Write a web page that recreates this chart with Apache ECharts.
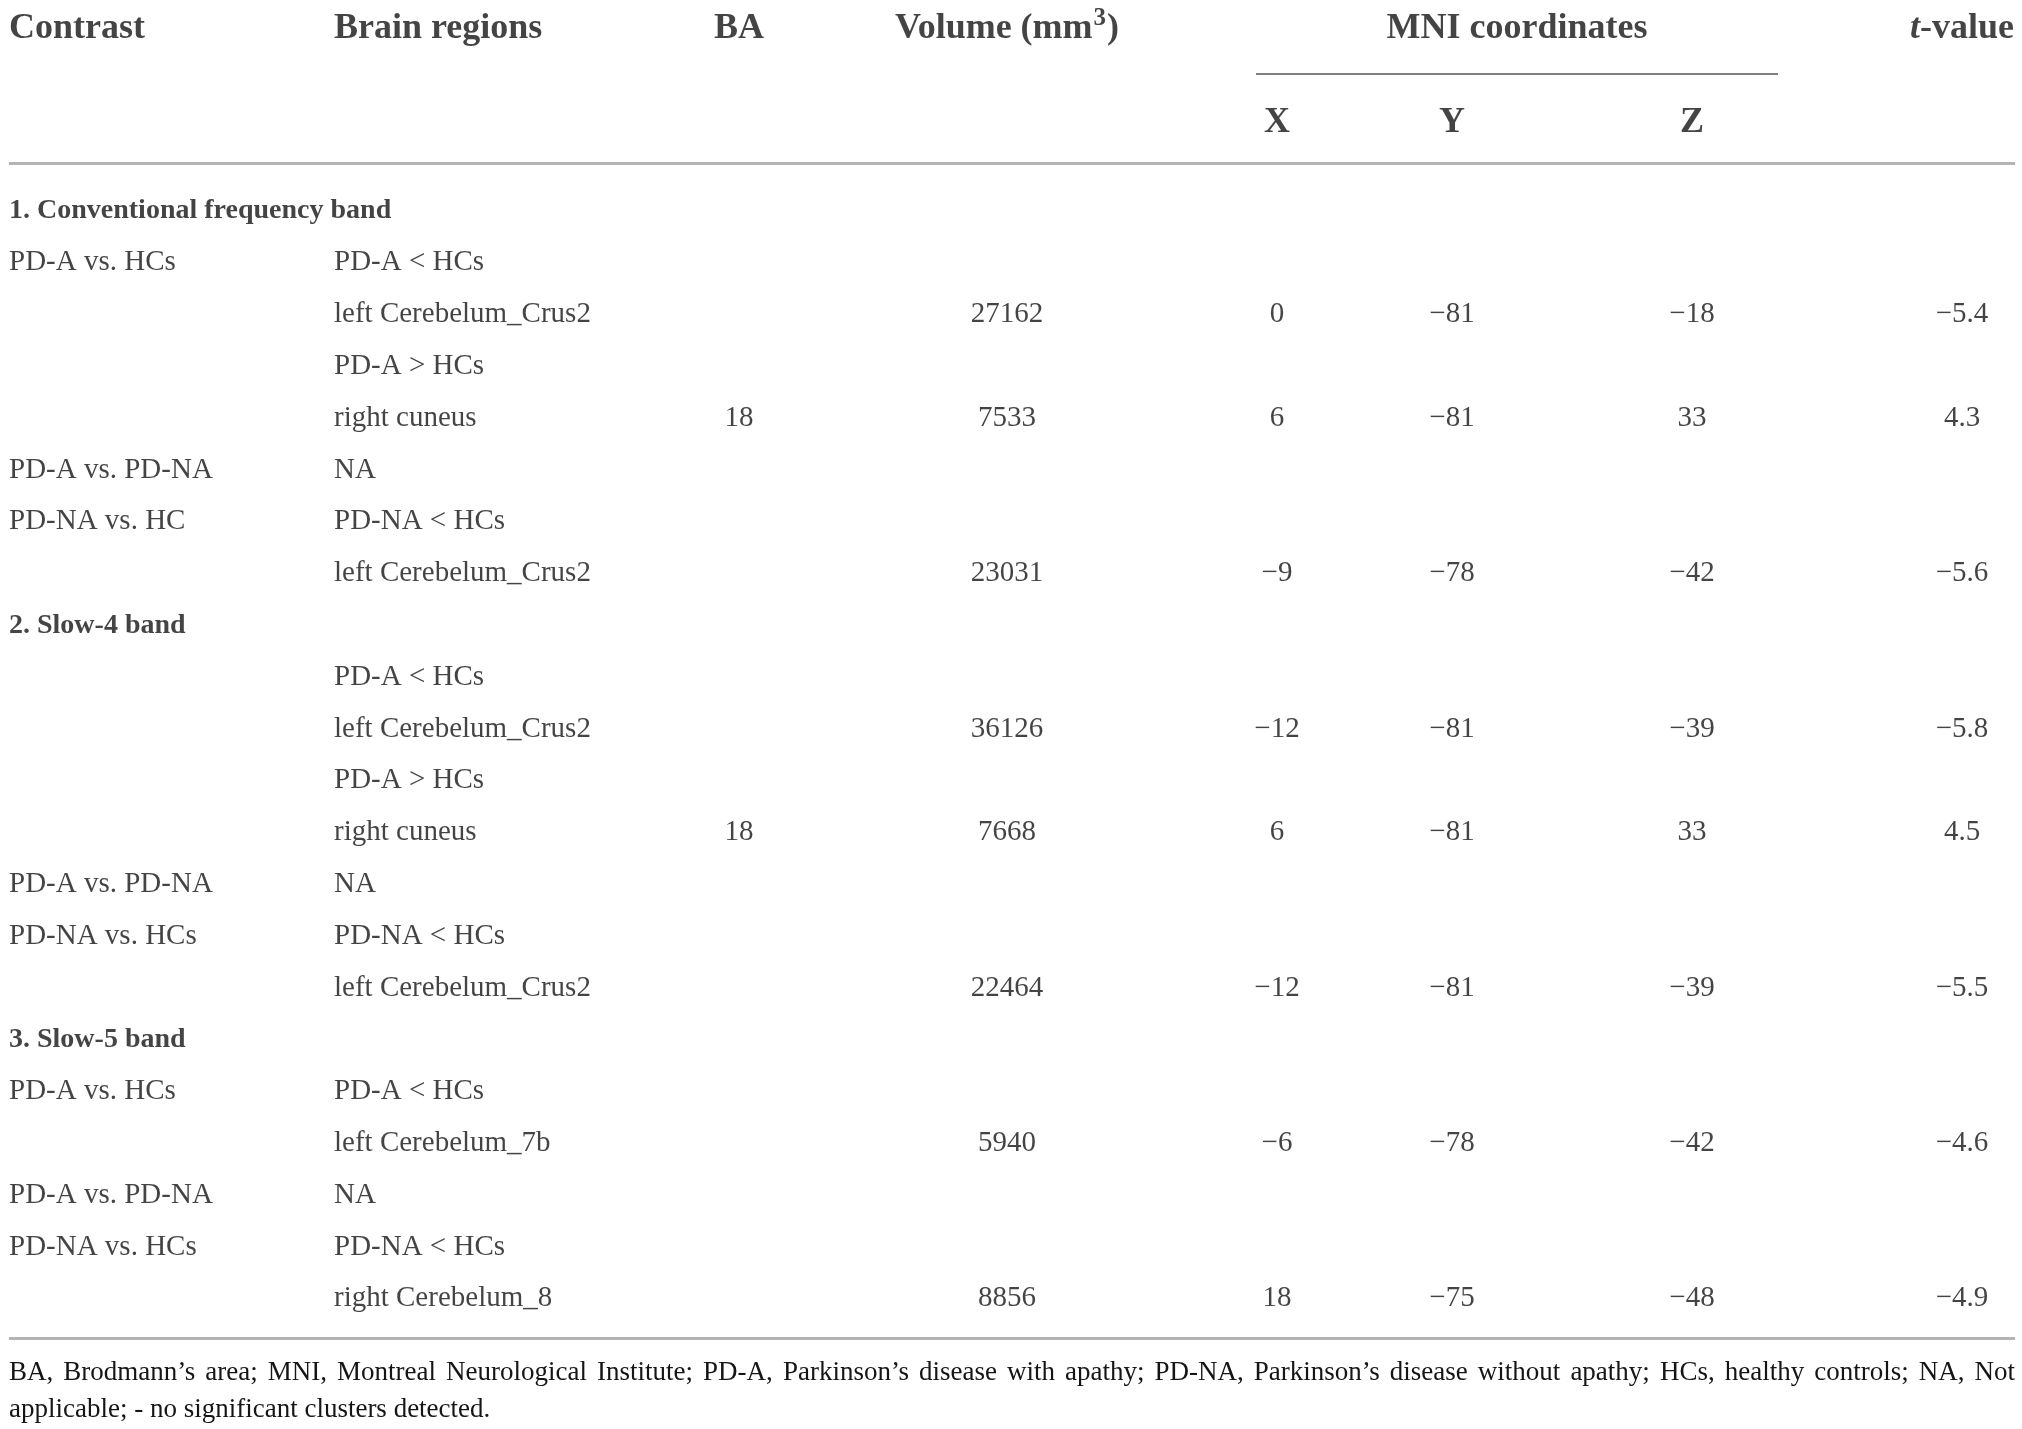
<!DOCTYPE html>
<html>
<head>
<meta charset="utf-8">
<script src="https://cdn.jsdelivr.net/npm/echarts@6/dist/echarts.min.js"></script>
<style>
  html, body { margin: 0; padding: 0; background: #fff; }
  #cluster_table { width: 2022px; height: 1429px; }
</style>
</head>
<body>
<div id="cluster_table"></div>
<script>
// table content, one entry per body row
var contrast = ['1. Conventional frequency band', 'PD-A vs. HCs', '', '', '', 'PD-A vs. PD-NA', 'PD-NA vs. HC', '',
  '2. Slow-4 band', '', '', '', '', 'PD-A vs. PD-NA', 'PD-NA vs. HCs', '',
  '3. Slow-5 band', 'PD-A vs. HCs', '', 'PD-A vs. PD-NA', 'PD-NA vs. HCs', ''];
var regions = ['', 'PD-A < HCs', 'left Cerebelum_Crus2', 'PD-A > HCs', 'right cuneus', 'NA', 'PD-NA < HCs', 'left Cerebelum_Crus2',
  '', 'PD-A < HCs', 'left Cerebelum_Crus2', 'PD-A > HCs', 'right cuneus', 'NA', 'PD-NA < HCs', 'left Cerebelum_Crus2',
  '', 'PD-A < HCs', 'left Cerebelum_7b', 'NA', 'PD-NA < HCs', 'right Cerebelum_8'];
var sectionRows = [0, 8, 16];

// cluster rows and their values
var clusterRows = [2, 4, 7, 10, 12, 15, 18, 21];
var ba = ['', '18', '', '', '18', '', '', ''];
var volume = ['27162', '7533', '23031', '36126', '7668', '22464', '5940', '8856'];
var mniX = ['0', '6', '\u22129', '\u221212', '6', '\u221212', '\u22126', '18'];
var mniY = ['\u221281', '\u221281', '\u221278', '\u221281', '\u221281', '\u221281', '\u221278', '\u221275'];
var mniZ = ['\u221218', '33', '\u221242', '\u221239', '33', '\u221239', '\u221242', '\u221248'];
var tValue = ['\u22125.4', '4.3', '\u22125.6', '\u22125.8', '4.5', '\u22125.5', '\u22124.6', '\u22124.9'];

var headers = ['Contrast', 'Brain regions', 'BA', 'Volume (mm{sup|3})', 'MNI coordinates', '{it|t}-value'];
var subHeaders = ['X', 'Y', 'Z'];
var footnote = ['BA, Brodmann\u2019s area; MNI, Montreal Neurological Institute; PD-A, Parkinson\u2019s disease with apathy; PD-NA, Parkinson\u2019s disease without apathy; HCs, healthy controls; NA, Not',
  'applicable; - no significant clusters detected.'];

// layout (pixels of the 2022 x 1429 page)
var W = 2022, H = 1429;
var font = 'Liberation Serif';
var ink = '#151515';
var col = { contrast: 9, region: 334, ba: 739, volume: 1007, x: 1277, y: 1452, z: 1692, t: 1962, mni: 1517 };
var headerY = 29, subHeaderY = 123;
var firstRowY = 211, rowGap = 51.8;
var tableLeft = 9, tableRight = 2015;

function rowY(i) { return firstRowY + i * rowGap; }

function cellSeries(name, data, align, size, weight) {
  return {
    name: name,
    type: 'scatter',
    silent: true,
    symbolSize: 0,
    data: data,
    label: {
      show: true,
      position: [0, 0],
      align: align,
      verticalAlign: 'middle',
      fontFamily: font,
      fontSize: size,
      fontWeight: weight,
      color: ink,
      formatter: function (p) { return p.value[2]; },
      rich: {
        sup: { fontFamily: font, fontSize: 25, fontWeight: 'bold', color: ink, verticalAlign: 'top', padding: [0, 1, 20, 1] },
        it: { fontFamily: font, fontSize: size, fontWeight: 'bold', fontStyle: 'italic', color: ink }
      }
    }
  };
}

function clusterColumn(values, x) {
  return values.map(function (v, k) { return [x, rowY(clusterRows[k]), v]; }).filter(function (d) { return d[2] !== ''; });
}

var leftHeaders = [[col.contrast, headerY, headers[0]], [col.region, headerY, headers[1]]];
var centerHeaders = [[col.ba, headerY, headers[2]], [col.volume, headerY, headers[3]], [col.mni, headerY, headers[4]],
  [col.t, headerY, headers[5]], [col.x, subHeaderY, subHeaders[0]], [col.y, subHeaderY, subHeaders[1]], [col.z, subHeaderY, subHeaders[2]]];

var sectionCells = [], contrastCells = [], regionCells = [];
contrast.forEach(function (c, i) {
  if (!c) return;
  if (sectionRows.indexOf(i) >= 0) sectionCells.push([col.contrast, rowY(i), c]);
  else contrastCells.push([col.contrast, rowY(i), c]);
});
regions.forEach(function (r, i) { if (r) regionCells.push([col.region, rowY(i), r]); });

var numberCells = [].concat(clusterColumn(ba, col.ba), clusterColumn(volume, col.volume), clusterColumn(mniX, col.x),
  clusterColumn(mniY, col.y), clusterColumn(mniZ, col.z), clusterColumn(tValue, col.t));

var headerSeries = cellSeries('header', leftHeaders, 'left', 36, 'bold');
headerSeries.markLine = {
  silent: true,
  symbol: 'none',
  animation: false,
  label: { show: false },
  data: [
    [{ coord: [1256, 74], lineStyle: { color: '#7f7f7f', width: 2, type: 'solid' } }, { coord: [1778, 74] }],
    [{ coord: [tableLeft, 163], lineStyle: { color: '#b4b4b4', width: 3, type: 'solid' } }, { coord: [tableRight, 163] }],
    [{ coord: [tableLeft, 1338], lineStyle: { color: '#b4b4b4', width: 3, type: 'solid' } }, { coord: [tableRight, 1338] }]
  ]
};

// footnote, first line justified across the table width
var footSize = 27;
var measure = document.createElement('canvas').getContext('2d');
measure.font = footSize + 'px "' + font + '"';
var footGraphics = [];
footnote.forEach(function (line, li) {
  var words = line.split(' ');
  var total = words.reduce(function (s, w) { return s + measure.measureText(w).width; }, 0);
  var gap = li === 0 ? (tableRight - tableLeft - total) / (words.length - 1) : measure.measureText(' ').width;
  var x = tableLeft;
  words.forEach(function (w) {
    footGraphics.push({
      type: 'text', x: x, y: li === 0 ? 1373 : 1410, silent: true,
      style: { text: w, fontFamily: font, fontSize: footSize, fill: ink, align: 'left', verticalAlign: 'middle' }
    });
    x += measure.measureText(w).width + gap;
  });
});

var myChart = echarts.init(document.getElementById('cluster_table'));
var option = {
  animation: false,
  backgroundColor: '#ffffff',
  grid: { left: 0, right: 0, top: 0, bottom: 0 },
  xAxis: { type: 'value', min: 0, max: W, show: false },
  yAxis: { type: 'value', min: 0, max: H, inverse: true, show: false },
  graphic: footGraphics,
  series: [
    headerSeries,
    cellSeries('headerCentered', centerHeaders, 'center', 36, 'bold'),
    cellSeries('section', sectionCells, 'left', 28, 'bold'),
    cellSeries('contrast', contrastCells, 'left', 29, 'normal'),
    cellSeries('region', regionCells, 'left', 29, 'normal'),
    cellSeries('values', numberCells, 'center', 29, 'normal')
  ]
};
myChart.setOption(option);

window.addEventListener('resize', function () {
  if (myChart != null && myChart != undefined) {
    myChart.resize();
  }
});
</script>
</body>
</html>
